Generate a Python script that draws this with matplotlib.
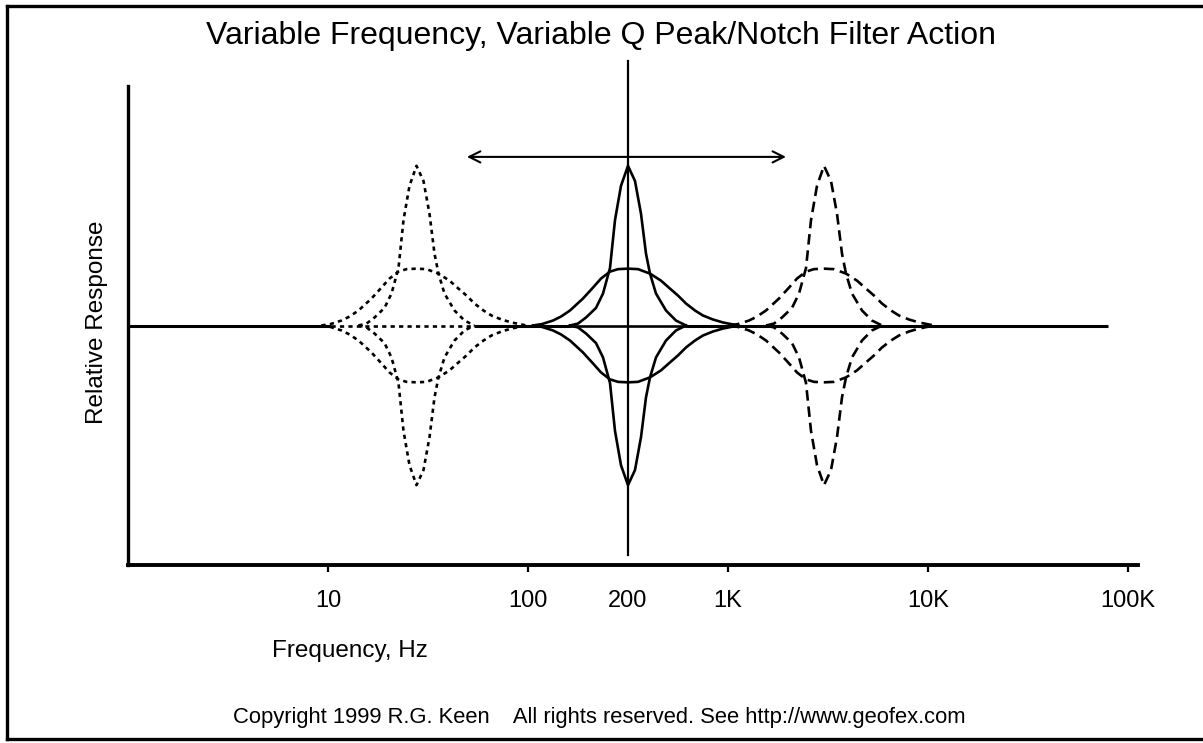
import numpy as np
import matplotlib.pyplot as plt
from matplotlib.lines import Line2D

plt.rcParams['font.family'] = ['Liberation Sans', 'DejaVu Sans']

# centre frequency of each filter group (Hz); the middle one is labelled "200"
centre_hz = [27.7, 316.2, 3020.0]

# curve shapes: offset from centre in decades, relative level
narrow_offset = [-0.29, -0.25, -0.21, -0.16, -0.125, -0.09, -0.065, -0.035, 0.0,
                 0.035, 0.065, 0.09, 0.11, 0.14, 0.19, 0.24, 0.29]
narrow_level = [0.0, 0.012, 0.05, 0.11, 0.2, 0.36, 0.66, 0.875, 1.0,
                0.905, 0.7, 0.45, 0.325, 0.2, 0.094, 0.031, 0.0]
wide_offset = [-0.475, -0.43, -0.375, -0.335, -0.29, -0.225, -0.175, -0.135, -0.09,
               -0.05, 0.0, 0.05, 0.11, 0.165, 0.21, 0.25, 0.29, 0.335, 0.375,
               0.425, 0.475, 0.55]
wide_level = [0.0, 0.009, 0.031, 0.056, 0.094, 0.169, 0.2375, 0.294, 0.3375,
              0.353, 0.356, 0.353, 0.325, 0.281, 0.231, 0.1875, 0.1375, 0.094, 0.0625,
              0.0375, 0.019, 0.0]

# solid 0 response line pieces (Hz), and the styled pieces inside each group
baseline_pieces = [(1.0, 10.3), (54.0, 162.0), (617.0, 79400.0)]
group_spans = [(10.3, 54.0), (162.0, 617.0), (1549.0, 5888.0)]

# sweep arrow (Hz) and its level
arrow_from, arrow_to, arrow_level = 49.5, 1950.0, 1.056
centre_line = (1.656, -1.44)

tick_hz = [10, 100, 1000, 10000, 100000]
tick_labels = ['10', '100', '1K', '10K', '100K']
centre_label = '200'

fig = plt.figure(figsize=(12.03, 7.43), dpi=100)
ax = fig.add_axes([128/1203, 1-565/743, 1010/1203, 479/743])

styles = [(0, (1.6, 1.6)), '-', (0, (4, 2.2))]
for c, span, ls in zip(centre_hz, group_spans, styles):
    lc = np.log10(c)
    xn = 10 ** (lc + np.array(narrow_offset))
    xw = 10 ** (lc + np.array(wide_offset))
    for sign in (1, -1):
        ax.plot(xn, sign * np.array(narrow_level), color='black', lw=1.9, ls=ls)
        ax.plot(xw, sign * np.array(wide_level), color='black', lw=1.9, ls=ls)
    ax.plot(span, [0, 0], color='black', lw=1.9, ls=ls)

for a, b in baseline_pieces:
    ax.plot([a, b], [0, 0], color='black', lw=2.2, solid_capstyle='butt')

ax.plot([centre_hz[1], centre_hz[1]], centre_line, color='black', lw=1.6, clip_on=False)
ax.annotate('', xy=(arrow_to, arrow_level), xytext=(arrow_from, arrow_level),
            arrowprops=dict(arrowstyle='<->', lw=1.5, color='black', mutation_scale=20,
                            shrinkA=0, shrinkB=0))

ax.set_xscale('log')
ax.set_xlim(1, 112200)
ax.set_ylim(-1.5, 1.5)
ax.spines[['top', 'right']].set_visible(False)
ax.spines['left'].set_linewidth(2.4)
ax.spines['bottom'].set_linewidth(2.8)
ax.set_yticks([])
ax.xaxis.set_minor_locator(plt.NullLocator())
ax.set_xticks(tick_hz, labels=tick_labels)
ax.set_xticks([centre_hz[1]], labels=[centre_label], minor=True)
ax.tick_params(axis='x', which='major', length=5, width=1.6, pad=13, labelsize=17)
ax.tick_params(axis='x', which='minor', length=0, pad=18, labelsize=17)

fig.text(0.5, 1-36/743, 'Variable Frequency, Variable Q Peak/Notch Filter Action',
         ha='center', va='center', fontsize=23)
fig.text(350/1203, 1-651/743, 'Frequency, Hz', ha='center', va='center', fontsize=17.5)
fig.text(97/1203, 1-322/743, 'Relative Response', ha='center', va='center',
         rotation=90, fontsize=17.5)
fig.text(599/1203, 1-718/743,
         'Copyright 1999 R.G. Keen    All rights reserved. See http://www.geofex.com',
         ha='center', va='center', fontsize=15.8)

# page frame (left, top, bottom)
for xs, ys in [([7, 7], [6, 739]), ([7, 1203], [6, 6]), ([7, 1203], [739, 739])]:
    fig.add_artist(Line2D(np.array(xs)/1203, 1-np.array(ys)/743, color='black', lw=2.4))

fig.savefig('out.png', dpi=100)
